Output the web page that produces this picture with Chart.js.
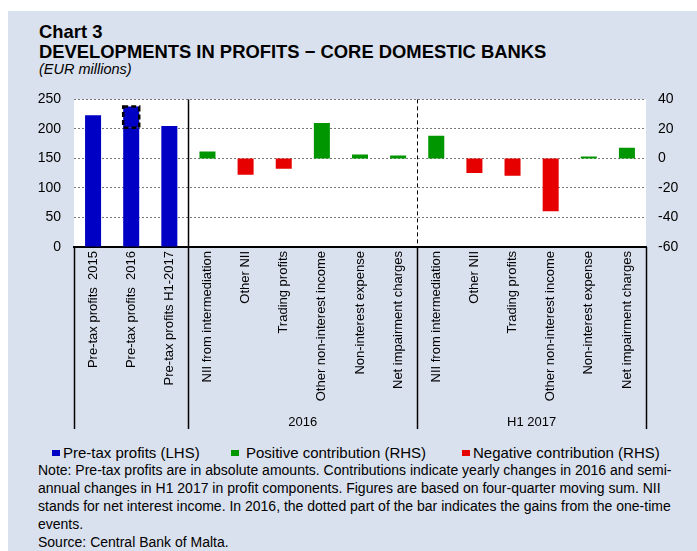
<!DOCTYPE html>
<html>
<head>
<meta charset="utf-8">
<script src="https://cdn.jsdelivr.net/npm/chart.js@4.4.1/dist/chart.umd.min.js"></script>
<style>
  html, body { margin:0; padding:0; background:#fff; width:697px; height:551px; overflow:hidden; }
  body { font-family:"Liberation Sans", Arial, sans-serif; color:#000; position:relative; }
  #panel { position:absolute; left:8px; top:11px; width:689px; height:540px; background:#dae1ee; }
  .txt { position:absolute; white-space:nowrap; }
  #t1 { left:39px; top:22.5px; font-size:18.4px; line-height:18px; font-weight:bold; }
  #t2 { left:39px; top:43px; font-size:18.4px; line-height:18px; font-weight:bold; }
  #t3 { left:39px; top:62px; font-size:14.5px; line-height:14.5px; font-style:italic; }
  #chart-wrap { position:absolute; left:8px; top:78px; width:689px; height:354px; }
  .leg { position:absolute; top:445px; font-size:15px; line-height:15px; }
  .leg i { position:absolute; left:-11px; top:5px; width:8px; height:6px; }
  #notes { position:absolute; left:38px; top:461px; font-size:14px; line-height:18px; white-space:nowrap; }
</style>
</head>
<body>
<div id="panel"></div>
<div class="txt" id="t1">Chart 3</div>
<div class="txt" id="t2">DEVELOPMENTS IN PROFITS − CORE DOMESTIC BANKS</div>
<div class="txt" id="t3">(EUR millions)</div>
<div id="chart-wrap"><canvas id="c" width="689" height="354"></canvas></div>
<div class="leg" style="left:63px"><i style="background:#0000c4"></i>Pre-tax profits (LHS)</div>
<div class="leg" style="left:246px"><i style="background:#009600;left:-15px"></i>Positive contribution (RHS)</div>
<div class="leg" style="left:473px"><i style="background:#e60000"></i>Negative contribution (RHS)</div>
<div id="notes">Note: Pre-tax profits are in absolute amounts. Contributions indicate yearly changes in 2016 and semi-<br>annual changes in H1 2017 in profit components. Figures are based on four-quarter moving sum. NII<br>stands for net interest income. In 2016, the dotted part of the bar indicates the gains from the one-time<br>events.<br>Source: Central Bank of Malta.</div>

<script>
// categories along the x axis
const categories = [
  'Pre-tax profits  2015', 'Pre-tax profits  2016', 'Pre-tax profits H1-2017',
  'NII from intermediation', 'Other NII', 'Trading profits', 'Other non-interest income', 'Non-interest expense', 'Net impairment charges',
  'NII from intermediation', 'Other NII', 'Trading profits', 'Other non-interest income', 'Non-interest expense', 'Net impairment charges'
];
// group labels under the axis: [label, first index, last index + 1]
const groups = [['2016', 3, 9], ['H1 2017', 9, 15]];

// LHS, EUR millions
const pretaxProfits = [223, 202, 205, null, null, null, null, null, null, null, null, null, null, null, null];
const oneOffGains   = [null, 36, null, null, null, null, null, null, null, null, null, null, null, null, null];
// RHS, EUR millions
const positiveContrib = [null, null, null, 4.7, null, null, 24, 2.7, 2, 15.3, null, null, null, 1.3, 7.3];
const negativeContrib = [null, null, null, null, -11, -7, null, null, null, null, -9.8, -11.8, -35.8, null, null];

const lhsTicks = { min:0, max:250, step:50 };
const rhsTicks = { min:-60, max:40, step:20 };

const BLUE = '#0000c4', GREEN = '#009600', RED = '#e60000';

Chart.defaults.font.family = '"Liberation Sans", Arial, sans-serif';
Chart.defaults.color = '#000';

const plotBg = {
  id:'plotBg',
  beforeDraw(chart){
    const {ctx, chartArea:a} = chart;
    ctx.save();
    ctx.fillStyle = '#fff';
    ctx.fillRect(a.left, a.top, a.right - a.left, a.bottom - a.top);
    ctx.restore();
  }
};

// dashed outline on the one-off part of the 2016 bar
const oneOffBox = {
  id:'oneOffBox',
  afterDatasetsDraw(chart){
    const meta = chart.getDatasetMeta(1);
    const ctx = chart.ctx;
    meta.data.forEach((el, i) => {
      if(oneOffGains[i] == null) return;
      const p = el.getProps(['x','y','base','width'], true);
      ctx.save();
      ctx.strokeStyle = '#000';
      ctx.lineWidth = 2.5;
      ctx.setLineDash([5, 3]);
      ctx.strokeRect(p.x - p.width/2, p.y, p.width, p.base - p.y);
      ctx.restore();
    });
  }
};

// section separators + group labels
const sections = {
  id:'sections',
  afterDraw(chart){
    const {ctx, chartArea:a, scales:{x}} = chart;
    const bottom = a.bottom + 182;
    const edge = i => i === 0 ? a.left : (i === categories.length ? a.right : (x.getPixelForValue(i-1) + x.getPixelForValue(i)) / 2);
    ctx.save();
    ctx.strokeStyle = '#000';
    ctx.lineWidth = 1.5;
    // below-axis boxes
    [0, 3, 9, 15].forEach(i => {
      const px = Math.round(edge(i)) + 0.5;
      ctx.beginPath(); ctx.moveTo(px, a.bottom); ctx.lineTo(px, bottom); ctx.stroke();
    });
    // inside plot
    let px = Math.round(edge(3)) + 0.5;
    ctx.beginPath(); ctx.moveTo(px, a.top); ctx.lineTo(px, a.bottom); ctx.stroke();
    px = Math.round(edge(9)) + 0.5;
    ctx.lineWidth = 1;
    ctx.setLineDash([4, 3]);
    ctx.beginPath(); ctx.moveTo(px, a.top); ctx.lineTo(px, a.bottom); ctx.stroke();
    ctx.setLineDash([]);
    ctx.fillStyle = '#000';
    ctx.font = '13px "Liberation Sans", Arial, sans-serif';
    ctx.textAlign = 'center';
    ctx.textBaseline = 'middle';
    groups.forEach(([label, from, to]) => {
      ctx.fillText(label, (edge(from) + edge(to)) / 2, a.bottom + 175);
    });
    ctx.restore();
  }
};

new Chart(document.getElementById('c'), {
  type:'bar',
  data:{
    labels: categories,
    datasets:[
      { label:'Pre-tax profits (LHS)', data:pretaxProfits, backgroundColor:BLUE, yAxisID:'y' },
      { label:'One-off gains', data:oneOffGains, backgroundColor:BLUE, yAxisID:'y' },
      { label:'Positive contribution (RHS)', data:positiveContrib, backgroundColor:GREEN, yAxisID:'y2' },
      { label:'Negative contribution (RHS)', data:negativeContrib, backgroundColor:RED, yAxisID:'y2' }
    ]
  },
  options:{
    responsive:false,
    animation:false,
    devicePixelRatio:1,
    barPercentage:0.42,
    categoryPercentage:1,
    layout:{ padding:{ top:5, left:0, right:0, bottom:0 } },
    plugins:{ legend:{ display:false }, tooltip:{ enabled:false } },
    scales:{
      x:{
        stacked:true,
        grid:{ display:false, drawTicks:false },
        border:{ display:true, color:'#000', width:2 },
        ticks:{ autoSkip:false, minRotation:90, maxRotation:90, padding:4, font:{ size:13 } },
        afterFit(s){ s.height = 185; }
      },
      y:{
        stacked:true,
        position:'left',
        min:lhsTicks.min, max:lhsTicks.max,
        grid:{ color:'#7a7a7a', lineWidth:1, drawTicks:false },
        border:{ display:false, dash:[2, 2] },
        ticks:{ stepSize:lhsTicks.step, padding:13, font:{ size:14 } },
        afterFit(s){ s.width = 66; }
      },
      y2:{
        stacked:true,
        position:'right',
        min:rhsTicks.min, max:rhsTicks.max,
        grid:{ display:false, drawTicks:false },
        border:{ display:false },
        ticks:{ stepSize:rhsTicks.step, padding:12, font:{ size:14 } },
        afterFit(s){ s.width = 51; }
      }
    }
  },
  plugins:[plotBg, oneOffBox, sections]
});
</script>
</body>
</html>
